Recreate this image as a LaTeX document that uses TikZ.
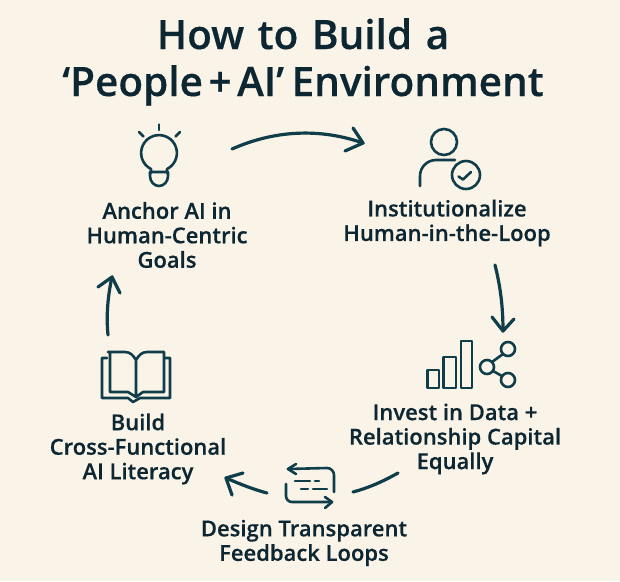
\documentclass[tikz,border=0pt]{standalone}
\usepackage{fontspec}
\setmainfont{Open Sans}[UprightFont={* Semibold},BoldFont={* Semibold},FakeBold=0.35]
\usetikzlibrary{arrows.meta}
\definecolor{bgc}{HTML}{FAF3E8}
\definecolor{ink}{HTML}{0F3D4A}
\definecolor{txt}{HTML}{0C2632}
\tikzset{
 icon/.style={draw=ink,line width=2.6pt,line cap=round,line join=round},
 flow/.style={draw=ink,line width=3.2pt,line cap=round,line join=round},
 lab/.style={text=txt,font=\fontsize{22}{24.5}\selectfont,align=center,inner sep=0pt},
 ttl/.style={text=txt,font=\fontsize{40.5}{47}\selectfont,align=center,inner sep=0pt}
}
\begin{document}
\begin{tikzpicture}[x=1pt,y=-1pt]
\path[fill=bgc] (0,0) rectangle (620,581);
\useasboundingbox (0,0) rectangle (620,581);
\node[ttl] (title) at (303,62) {How\hspace{3pt} to\hspace{3pt} Build\hspace{3pt} a\\‘People\hspace{-5pt} + \hspace{-5pt}AI’\hspace{-3pt} Environment};
\node[lab] (l1) at (167,235) {Anchor AI in\\Human-Centric\\Goals};
\node[lab] (l2) at (447,223) {Institutionalize\\Human-in-the-Loop};
\node[lab] (l3) at (455,439) {Invest in Data +\\Relationship Capital\\Equally};
\node[lab] (l4) at (304,543) {Design Transparent\\Feedback Loops};
\node[lab] (l5) at (138,449) {Build\\Cross-Functional\\AI Literacy};
% arrow end points
\coordinate (a1s) at (232,149); \coordinate (a1e) at (363,143);
\coordinate (a2s) at (495,265); \coordinate (a2e) at (503,331);
\coordinate (a3s) at (398,473); \coordinate (a3e) at (353,492);
\coordinate (a4s) at (267,493); \coordinate (a4e) at (226,478);
\coordinate (a5s) at (108,335); \coordinate (a5e) at (112,277);
\draw[flow] (a1s) .. controls (275,130) and (320,128) .. (a1e);
\draw[flow] (353,128) -- (a1e) -- (345,151);
\draw[flow] (a2s) .. controls (500,285) and (503,305) .. (a2e);
\draw[flow] (492,317) -- (a2e) -- (514,319);
\draw[flow] (a3s) .. controls (382,482) and (368,488) .. (a3e);
\draw[flow] (a4s) .. controls (252,489) and (240,484) .. (a4e);
\draw[flow] (243,473) -- (a4e) -- (232,495);
\draw[flow] (a5s) .. controls (106,315) and (108,295) .. (a5e);
\draw[flow] (98,287) -- (a5e) -- (120,293);
% bulb
\draw[icon] (151,173) -- (151,169) arc[start angle=116.6,end angle=423.4,radius=17.9] -- (167,173);
\draw[icon] (150,172) -- (168,172) -- (168,176) arc[start angle=0,end angle=180,x radius=9,y radius=10] -- cycle;
\draw[icon] (159,124.5) -- (159,130);
\draw[icon] (139,132) -- (143.5,136.5);
\draw[icon] (180,132) -- (175.5,136.5);
% person
\draw[icon] (444,142) circle[radius=13];
\draw[icon] (420,186) -- (420,176) arc[start angle=180,end angle=270,radius=16] -- (455,160);
\draw[icon] (466,175) circle[radius=14];
\draw[icon] (458.5,176.5) -- (463,179.5) -- (471,172);
% chart
\draw[icon] (427.5,370) rectangle (439,388);
\draw[icon] (443.5,357) rectangle (456,388);
\draw[icon] (461,341) rectangle (472,388);
\draw[icon] (508,349) circle[radius=7];
\draw[icon] (487,367) circle[radius=7];
\draw[icon] (508,380) circle[radius=7];
\draw[icon] (492,362) -- (503,354);
\draw[icon] (493,371) -- (502,376);
% feedback
\draw[icon] (296,464) -- (288,469) -- (296,474);
\draw[icon] (288,469) -- (327,468) arc[start angle=270,end angle=360,radius=7] -- (334,492);
\draw[icon] (286,484) -- (286,496) arc[start angle=180,end angle=90,radius=6] -- (332,502);
\draw[icon] (325,497) -- (332,502) -- (325,508);
\draw[icon] (295,481) -- (310,481);
\draw[icon] (315,481) -- (319,481);
\draw[icon] (301,489) -- (308,489);
\draw[icon] (313,489) -- (327,489);
% book
\draw[icon] (107,358) -- (102,358) -- (102,398) -- (128,398) -- (133,402) -- (140,398) -- (170,398) -- (170,358) -- (165,358);
\draw[icon] (136,360) .. controls (133,355) and (130,352) .. (125,352) -- (108,352) -- (110,352) -- (110,392) -- (128,392) -- (136,397) -- (143,392) -- (164,392) -- (164,352) -- (147,352) .. controls (142,352) and (139,355) .. (136,360) -- (136,397);
\end{tikzpicture}
\end{document}
